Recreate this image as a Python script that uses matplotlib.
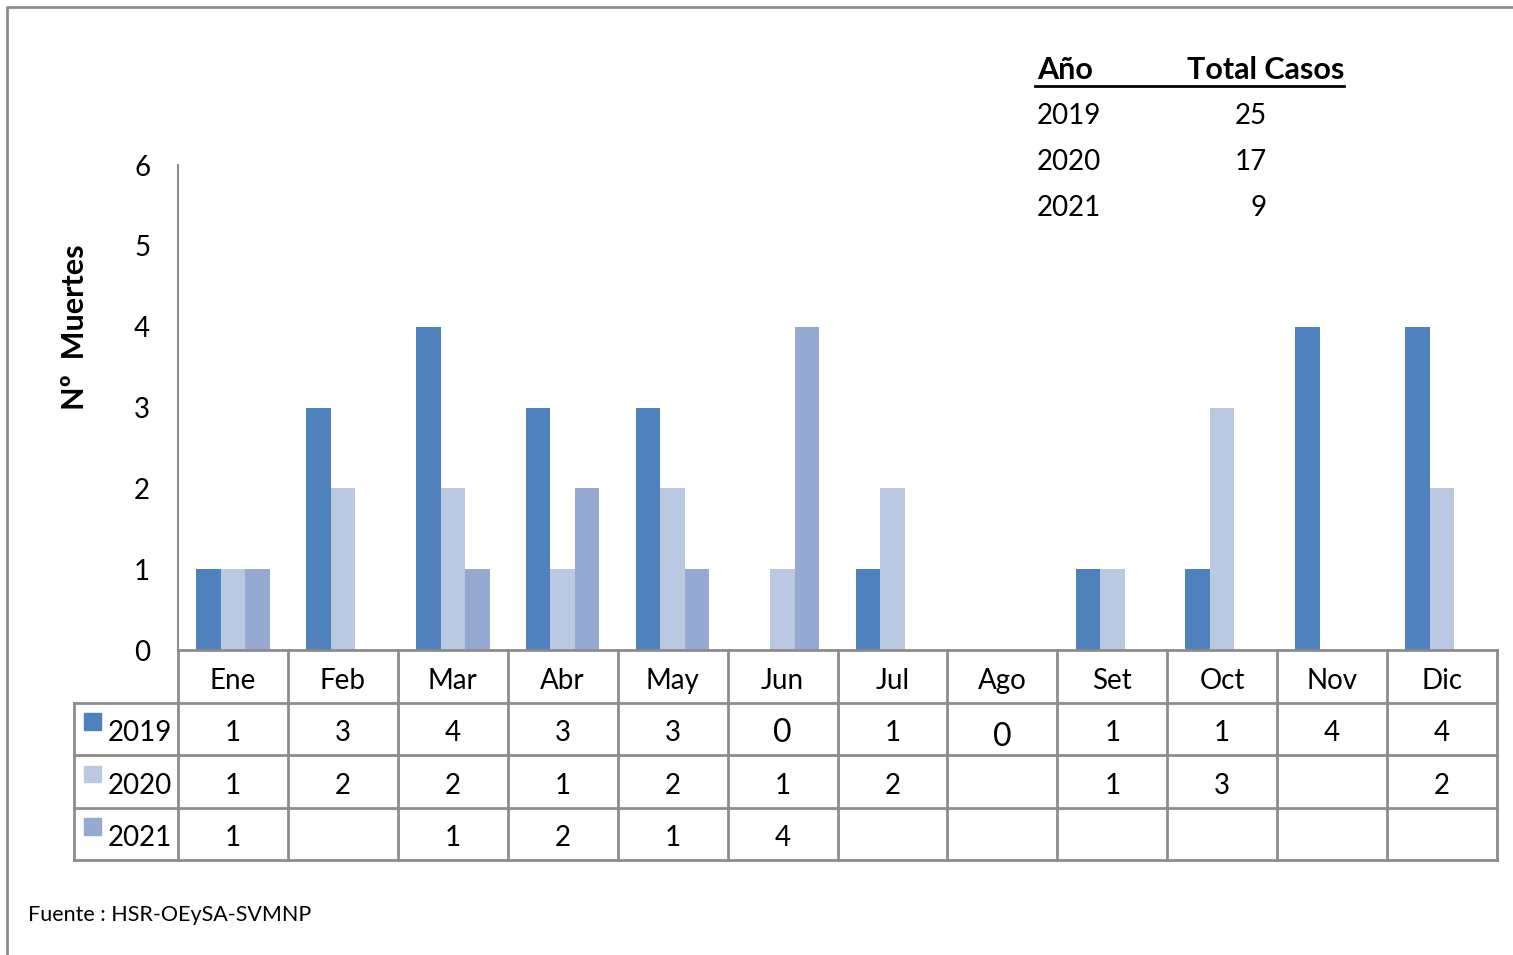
import matplotlib
matplotlib.use("Agg")
import matplotlib.pyplot as plt
from matplotlib.lines import Line2D
from matplotlib.patches import Rectangle
import numpy as np

plt.rcParams['font.family'] = ['Lato', 'DejaVu Sans']

months = ["Ene", "Feb", "Mar", "Abr", "May", "Jun", "Jul", "Ago", "Set", "Oct", "Nov", "Dic"]
years = ["2019", "2020", "2021"]
v2019 = [1, 3, 4, 3, 3, 0, 1, 0, 1, 1, 4, 4]
v2020 = [1, 2, 2, 1, 2, 1, 2, None, 1, 3, None, 2]
v2021 = [1, None, 1, 2, 1, 4, None, None, None, None, None, None]
totals = [25, 17, 9]
colors = ["#4F81BD", "#BBC8E2", "#95A9D1"]
series = [v2019, v2020, v2021]

W, H = 1513, 955
fig = plt.figure(figsize=(W / 100, H / 100), dpi=100)

def fx(x):
    return x / W

def fy(y):
    return 1 - y / H

# main axes: x 178..1497, y 165..650
ax = fig.add_axes([fx(178), fy(650), fx(1497) - fx(178), fy(165) - fy(650)])
ax.set_xlim(0, 12)
ax.set_ylim(0, 6)
bw = 0.223
x = np.arange(12) + 0.5
for i, (vals, c) in enumerate(zip(series, colors)):
    h = [v if v is not None else 0 for v in vals]
    ax.bar(x + (i - 1) * bw, h, width=bw, color=c, edgecolor='none')

for s in ['top', 'right', 'bottom']:
    ax.spines[s].set_visible(False)
ax.spines['left'].set_color('#8c8c8c')
ax.spines['left'].set_linewidth(1.5)
ax.set_xticks([])
ax.set_yticks(range(7))
ax.tick_params(axis='y', length=0, pad=20, labelsize=20)
fig.text(fx(75), fy(327), "Nº  Muertes", fontsize=22, fontweight='bold',
         rotation=90, ha='center', va='center')

# data table axes: y 650..860
tax = fig.add_axes([fx(178), fy(860), fx(1497) - fx(178), fy(650) - fy(860)])
tax.set_xlim(0, 12)
tax.set_ylim(0, 4)
tax.axis('off')
lc = '#8c8c8c'
lw = 2
xl = -0.946  # left edge of label column in data units
tax.add_line(Line2D([0, 12], [4, 4], color=lc, lw=lw, clip_on=False))
for yy in [0, 1, 2, 3]:
    tax.add_line(Line2D([xl, 12], [yy, yy], color=lc, lw=lw, clip_on=False))
for xx in range(13):
    tax.add_line(Line2D([xx, xx], [0, 4], color=lc, lw=lw, clip_on=False))
tax.add_line(Line2D([xl, xl], [0, 3], color=lc, lw=lw, clip_on=False))

dy = 0.09
for j, m in enumerate(months):
    tax.text(j + 0.5, 3.5 - dy, m, ha='center', va='center', fontsize=20, clip_on=False)

for i, (vals, c, yr) in enumerate(zip(series, colors, years)):
    yc = 2.5 - i
    tax.add_patch(Rectangle((xl + 0.09, yc - 0.02), 0.155, 0.32, color=c, clip_on=False))
    tax.text(xl + 0.31, yc - dy, yr, ha='left', va='center', fontsize=20, clip_on=False)
    for j, v in enumerate(vals):
        if v is None:
            continue
        if v == 0:
            tax.text(j + 0.5, yc - dy - (0.06 if months[j] == "Ago" else 0), str(v),
                     ha='center', va='center', fontsize=23)
        else:
            tax.text(j + 0.5, yc - dy, str(v), ha='center', va='center', fontsize=20)

# summary box top right
fig.text(fx(1037), fy(79), "Año", fontsize=22, fontweight='bold', ha='left', va='baseline')
fig.text(fx(1344), fy(79), "Total Casos", fontsize=22, fontweight='bold', ha='right', va='baseline')
fig.add_artist(Line2D([fx(1035), fx(1344)], [fy(86.5), fy(86.5)], color='black', lw=2))
for k, (yr, t) in enumerate(zip(years, totals)):
    yb = 124 + k * 46
    fig.text(fx(1037), fy(yb), yr, fontsize=20, ha='left', va='baseline')
    fig.text(fx(1267), fy(yb), str(t), fontsize=20, ha='right', va='baseline')

fig.text(fx(28), fy(921), "Fuente : HSR-OEySA-SVMNP", fontsize=15.5, ha='left', va='baseline')

# outer frame
fig.add_artist(Line2D([fx(7), fx(7), fx(1520)], [fy(960), fy(7), fy(7)], color='#8c8c8c', lw=2))

fig.savefig("out.png", dpi=100)
